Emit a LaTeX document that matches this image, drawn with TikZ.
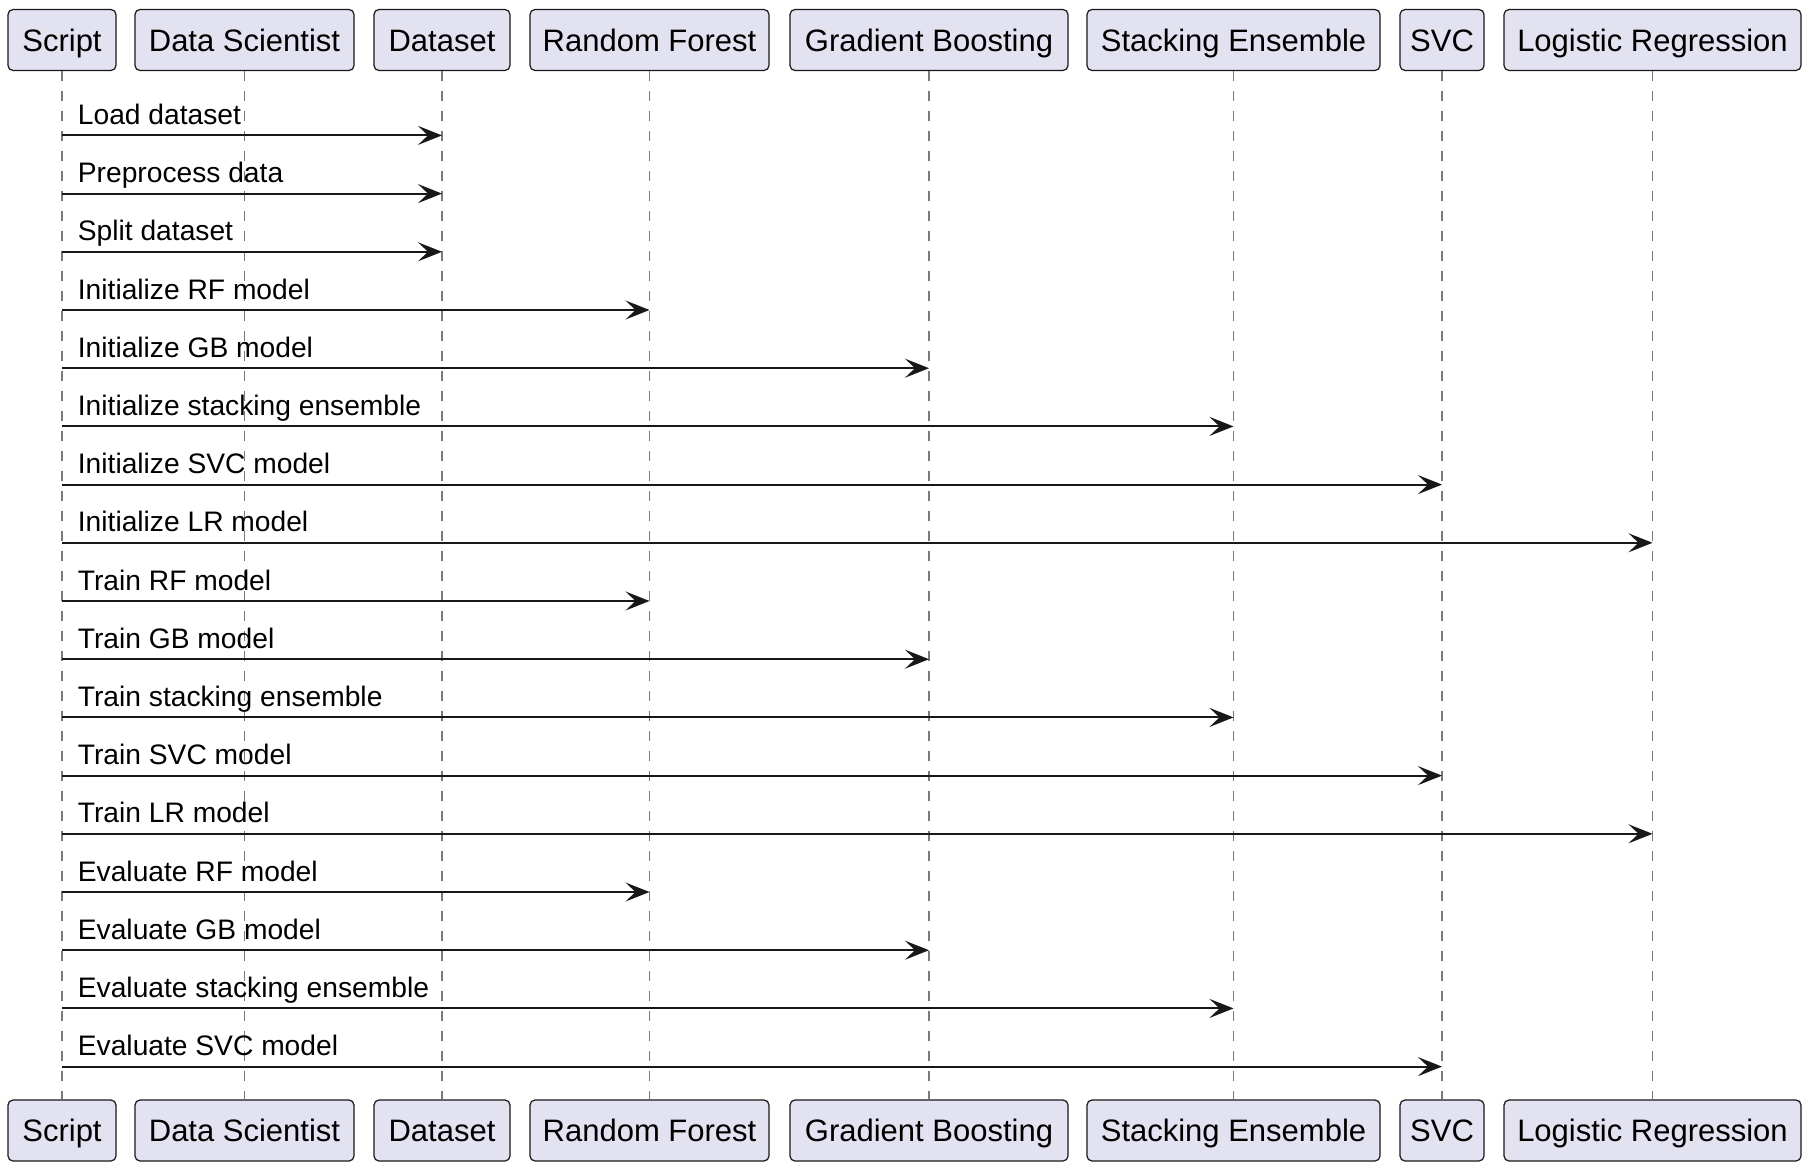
\documentclass[tikz,border=0pt]{standalone}
\usepackage{fontspec}
\setmainfont{Liberation Sans}
\usetikzlibrary{arrows.meta}
\definecolor{boxfill}{HTML}{E2E2F0}
\definecolor{boxline}{HTML}{181818}
\definecolor{lifecol}{HTML}{7A7A7A}
\begin{document}
\begin{tikzpicture}[x=0.5pt,y=-0.5pt,
  part/.style={draw=boxline, fill=boxfill, rounded corners=2.5pt, line width=0.6pt,
    minimum height=30.5pt, inner sep=0pt, font=\fontsize{15.5}{18}\selectfont, text=black,
    text height=11.1pt, text depth=0pt},
  life/.style={draw=lifecol, line width=0.75pt, dash pattern=on 5pt off 5pt},
  msg/.style={draw=boxline, line width=1pt, -{Stealth[length=12pt, width=9.5pt, inset=5pt]}},
  lbl/.style={font=\fontsize{14.1}{17}\selectfont, inner sep=0pt, text=black}]
\fill[white] (0,0) rectangle (1814,1172);
\useasboundingbox (0,0) rectangle (1814,1172);
\foreach \n/\x/\w/\t in {S/62/108/Script, D/244.5/219/Data Scientist, T/442/136/Dataset,
  R/649.5/239/Random Forest, G/929/278/Gradient Boosting, E/1233.5/293/Stacking Ensemble,
  V/1442/84/SVC, L/1652.5/297/Logistic Regression}{
  \node[part, minimum width=\w*0.5pt] (t\n) at (\x,40) {\t};
  \node[part, minimum width=\w*0.5pt] (b\n) at (\x,1130.5) {\t};
  \draw[life] (t\n) -- (b\n);
}
\foreach \i/\tg/\t in {1/T/Load dataset, 2/T/Preprocess data, 3/T/Split dataset,
  4/R/Initialize RF model, 5/G/Initialize GB model, 6/E/Initialize stacking ensemble,
  7/V/Initialize SVC model, 8/L/Initialize LR model, 9/R/Train RF model,
  10/G/Train GB model, 11/E/Train stacking ensemble, 12/V/Train SVC model,
  13/L/Train LR model, 14/R/Evaluate RF model, 15/G/Evaluate GB model,
  16/E/Evaluate stacking ensemble, 17/V/Evaluate SVC model}{
  \pgfmathsetmacro\yy{135.4+(\i-1)*58.2}
  \coordinate (y\i) at (0,\yy);
  \draw[msg] (tS |- y\i) -- (t\tg |- y\i);
  \node[lbl, anchor=base west] (m\i) at (77.5,\yy-11) {\t};
}
\end{tikzpicture}
\end{document}
